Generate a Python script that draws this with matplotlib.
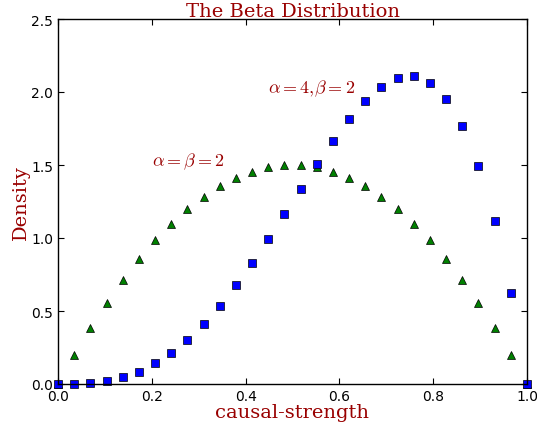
import numpy as np
import matplotlib
matplotlib.use("Agg")
import matplotlib.pyplot as plt

# x positions (30 evenly spaced points on [0, 1])
x = np.linspace(0, 1, 30)

# Beta(2,2) density
beta_2_2 = [0.0, 0.1998, 0.3853, 0.5565, 0.7134, 0.8561, 0.9845, 1.0987,
            1.1986, 1.2842, 1.3555, 1.4126, 1.4554, 1.4839, 1.4982, 1.4982,
            1.4839, 1.4554, 1.4126, 1.3555, 1.2842, 1.1986, 1.0987, 0.9845,
            0.8561, 0.7134, 0.5565, 0.3853, 0.1998, 0.0]

# Beta(4,2) density
beta_4_2 = [0.0, 0.0008, 0.0061, 0.0199, 0.0452, 0.0848, 0.1405, 0.2134,
            0.3040, 0.4123, 0.5373, 0.6775, 0.8307, 0.9940, 1.1639, 1.3361,
            1.5057, 1.6671, 1.8141, 1.9395, 2.0360, 2.0950, 2.1077, 2.0643,
            1.9545, 1.7673, 1.4910, 1.1132, 0.6208, 0.0]

red = "#990000"
plt.rcParams["mathtext.fontset"] = "cm"

fig = plt.figure(figsize=(5.37, 4.27), dpi=100)
ax = fig.add_axes([58 / 537, 42 / 427, 469 / 537, 365 / 427])

ax.plot(x, beta_2_2, "^", color="g", markersize=6, markeredgecolor="k",
        markeredgewidth=0.5, clip_on=False)
ax.plot(x, beta_4_2, "s", color="b", markersize=6, markeredgecolor="k",
        markeredgewidth=0.5, clip_on=False)

ax.set_xlim(0, 1)
ax.set_ylim(0, 2.5)
ax.set_xticks(np.arange(0, 1.01, 0.2))
ax.set_yticks(np.arange(0, 2.51, 0.5))
ax.tick_params(direction="in", top=True, right=True, length=4, labelsize=10)
for s in ax.spines.values():
    s.set_linewidth(1.0)

ax.text(0.2, 1.5, r"$\alpha=\beta=2$", color=red, fontsize=13)
ax.text(0.447, 2.0, r"$\alpha=4,\!\beta=2$", color=red, fontsize=13)

ax.set_title("The Beta Distribution", family="DejaVu Serif", color=red,
             fontsize=14, pad=2)
ax.set_xlabel("causal-strength", family="DejaVu Serif", color=red,
              fontsize=14, labelpad=0)
ax.set_ylabel("Density", family="DejaVu Serif", color=red, fontsize=14,
              labelpad=1)

fig.savefig("out.png", dpi=100)
